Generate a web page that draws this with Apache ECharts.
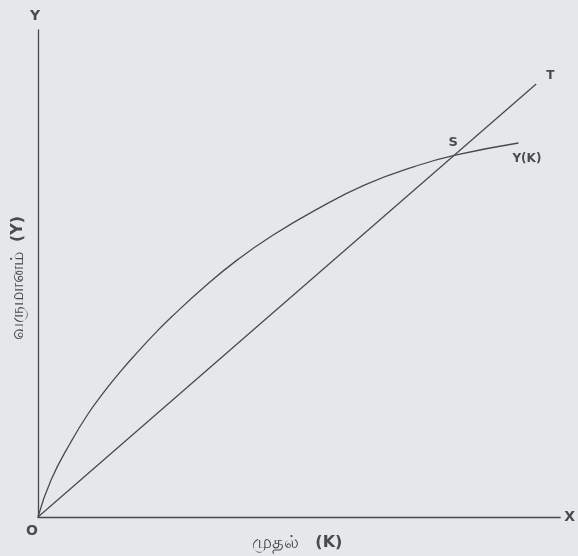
<!DOCTYPE html>
<html>
<head>
<meta charset="utf-8">
<script src="https://cdn.jsdelivr.net/npm/echarts@6/dist/echarts.min.js"></script>
<style>
  html, body { margin: 0; padding: 0; background: #e4e8ea; }
  #chart { width: 578px; height: 556px; }
</style>
</head>
<body>
<div id="chart"></div>
<script>
// Y(K) curve (K, Y in axis units 0..10)
const curveK = [0, 0.25, 0.63, 0.96, 1.28, 1.59, 1.92, 2.24, 2.55, 3.2, 3.83, 4.46, 5.31, 6.26, 7.22, 7.99, 9.2];
const curveY = [0, 0.76, 1.54, 2.12, 2.59, 3.0, 3.4, 3.77, 4.1, 4.74, 5.29, 5.76, 6.3, 6.82, 7.2, 7.43, 7.68];
// straight line O -> T
const rayK = [0, 9.54];
const rayY = [0, 8.89];
// intersection S
const pointS = [7.99, 7.43];

const ink = '#4a4a4a';
const font = 'DejaVu Sans, Noto Sans, sans-serif';

const chart = echarts.init(document.getElementById('chart'));
chart.setOption({
  backgroundColor: '#e4e8ea',
  animation: false,
  grid: { left: 38, right: 16, top: 30, bottom: 39 },
  xAxis: {
    type: 'value', min: 0, max: 10,
    name: 'X', nameLocation: 'end', nameGap: 4,
    nameTextStyle: { color: ink, fontSize: 14, fontWeight: 'bold', fontFamily: font },
    axisLine: { show: true, lineStyle: { color: ink, width: 1.3 } },
    axisTick: { show: false }, axisLabel: { show: false }, splitLine: { show: false }
  },
  yAxis: {
    type: 'value', min: 0, max: 10,
    name: 'Y', nameLocation: 'end', nameGap: 7,
    nameTextStyle: { color: ink, fontSize: 14, fontWeight: 'bold', fontFamily: font, padding: [0, 0, 0, -6] },
    axisLine: { show: true, lineStyle: { color: ink, width: 1.3 } },
    axisTick: { show: false }, axisLabel: { show: false }, splitLine: { show: false }
  },
  series: [
    {
      type: 'line', smooth: 0.5, symbol: 'none',
      data: curveK.map((k, i) => [k, curveY[i]]),
      lineStyle: { color: ink, width: 1.3 },
      endLabel: {
        show: true, formatter: 'Y(K)', color: ink, fontSize: 12, fontWeight: 'bold',
        fontFamily: font, offset: [-14, 16]
      },
      markPoint: {
        symbol: 'circle', symbolSize: 0,
        data: [{ coord: pointS }],
        label: {
          show: true, formatter: 'S', position: 'top', distance: 6, offset: [-2, 0],
          color: ink, fontSize: 13, fontWeight: 'bold', fontFamily: font
        }
      }
    },
    {
      type: 'line', symbol: 'none',
      data: rayK.map((k, i) => [k, rayY[i]]),
      lineStyle: { color: ink, width: 1.3 },
      endLabel: {
        show: true, formatter: 'T', color: ink, fontSize: 12, fontWeight: 'bold',
        fontFamily: font, offset: [2, -8]
      }
    }
  ],
  graphic: [
    {
      type: 'text', left: 26, top: 524,
      style: { text: 'O', fill: ink, font: 'bold 14px ' + font }
    },
    {
      type: 'text', x: 297, y: 543,
      style: {
        text: '{t|முதல்}     {b|(K)}', fill: ink, align: 'center', verticalAlign: 'middle',
        rich: {
          t: { fontSize: 18, fontFamily: font, fill: ink },
          b: { fontSize: 16, fontWeight: 'bold', fontFamily: font, fill: ink }
        }
      }
    },
    {
      type: 'text', x: 18, y: 278, rotation: Math.PI / 2,
      style: {
        text: '{t|வருமானம்}   {b|(Y)}', fill: ink, align: 'center', verticalAlign: 'middle',
        rich: {
          t: { fontSize: 18, fontFamily: font, fill: ink },
          b: { fontSize: 16, fontWeight: 'bold', fontFamily: font, fill: ink }
        }
      }
    }
  ]
});
</script>
</body>
</html>
